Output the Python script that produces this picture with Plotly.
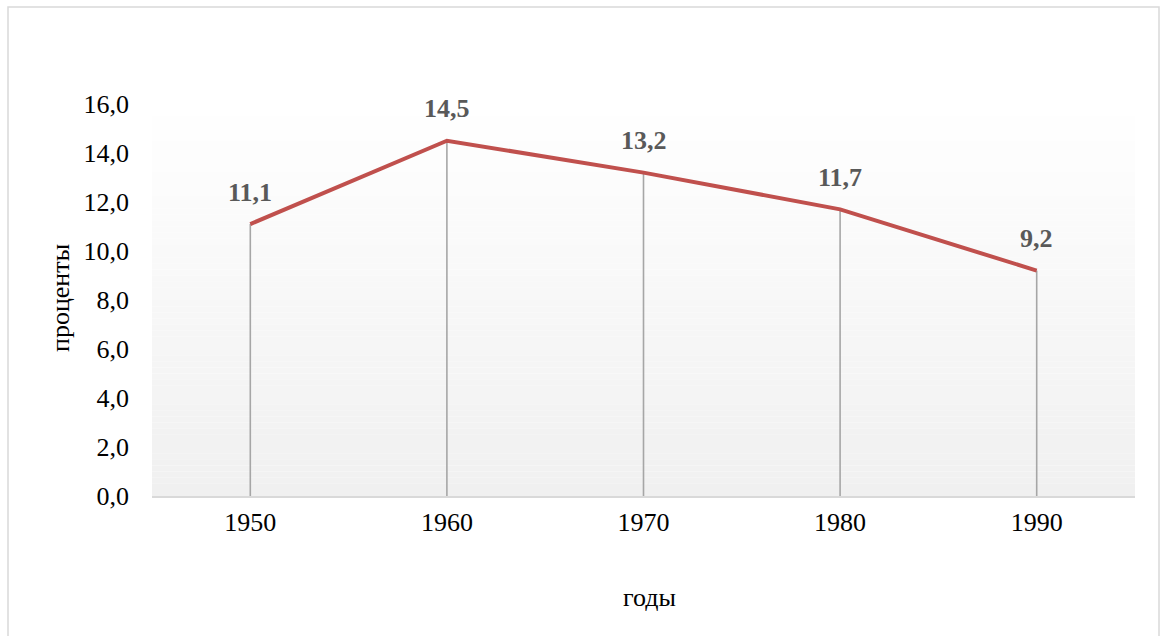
import plotly.graph_objects as go

# Data
years = ["1950", "1960", "1970", "1980", "1990"]
values = [11.1, 14.5, 13.2, 11.7, 9.2]
y_ticks = [0, 2, 4, 6, 8, 10, 12, 14, 16]

W, H = 1160, 636
L, R, T, B = 152, 25, 104, 140
PW, PH = W - L - R, H - T - B

FONT = "Liberation Serif, Times New Roman, serif"
LINE_COLOR = "#c0504d"

xs = list(range(len(years)))

fig = go.Figure()

# Vertical drop lines from each point down to the axis
drop_x, drop_y = [], []
for x, v in zip(xs, values):
    drop_x += [x, x, None]
    drop_y += [0, v, None]
fig.add_trace(go.Scatter(
    x=drop_x, y=drop_y, mode="lines",
    line=dict(color="#a6a6a6", width=1.6),
    hoverinfo="skip", showlegend=False,
))

# Main series
fig.add_trace(go.Scatter(
    x=xs, y=values, mode="lines",
    line=dict(color=LINE_COLOR, width=4),
    showlegend=False,
))

shapes = []
# Plot-area background: vertical gradient from white (top) to light gray (bottom)
n_bands = 64
top_c, bot_c = 255, 240
for i in range(n_bands):
    f = (i + 0.5) / n_bands
    c = round(top_c + (bot_c - top_c) * f)
    shapes.append(dict(
        type="rect", xref="x domain", yref="y domain",
        x0=0, x1=1, y0=1 - (i + 1) / n_bands, y1=1 - i / n_bands,
        fillcolor=f"rgb({c},{c},{c})", line=dict(width=0), layer="below",
    ))

# Chart frame
def px_x(p):
    return (p - L) / PW

def px_y(p):
    return 1 - (p - T) / PH

shapes.append(dict(
    type="rect", xref="paper", yref="paper",
    x0=px_x(8), x1=px_x(1159), y0=px_y(640), y1=px_y(7),
    line=dict(color="#d9d9d9", width=1.5), fillcolor="rgba(0,0,0,0)",
    layer="below",
))

annotations = []
# Data labels
for x, v in zip(xs, values):
    annotations.append(dict(
        x=x, y=v, xref="x", yref="y",
        text=f"{v:.1f}".replace(".", ","),
        showarrow=False, yshift=32,
        font=dict(family=FONT, size=26, color="#595959", weight="bold"),
    ))

# Axis titles
annotations.append(dict(
    x=px_x(60), y=px_y(298), xref="paper", yref="paper",
    xanchor="center", yanchor="middle",
    text="проценты", textangle=-90, showarrow=False,
    font=dict(family=FONT, size=26, color="#000000"),
))
annotations.append(dict(
    x=px_x(649), y=px_y(597), xref="paper", yref="paper",
    xanchor="center", yanchor="middle",
    text="годы", showarrow=False,
    font=dict(family=FONT, size=26, color="#000000"),
))

fig.update_layout(
    width=W, height=H,
    margin=dict(l=L, r=R, t=T, b=B),
    paper_bgcolor="white", plot_bgcolor="rgba(0,0,0,0)",
    separators=", ",
    font=dict(family=FONT, size=26, color="#000000"),
    shapes=shapes, annotations=annotations,
    hovermode=False,
)
fig.update_xaxes(
    range=[-0.5, 4.5], tickvals=xs, ticktext=years,
    showgrid=False, zeroline=False,
    showline=True, linecolor="#d9d9d9", linewidth=2,
    ticks="", ticklabelstandoff=2,
    tickfont=dict(family=FONT, size=26, color="#000000"),
)
fig.update_yaxes(
    range=[0, 16], tickvals=y_ticks, tickformat=".1f",
    showgrid=False, zeroline=False, showline=False,
    ticks="", ticklabelstandoff=22,
    tickfont=dict(family=FONT, size=26, color="#000000"),
)

fig.write_html("out.html")
